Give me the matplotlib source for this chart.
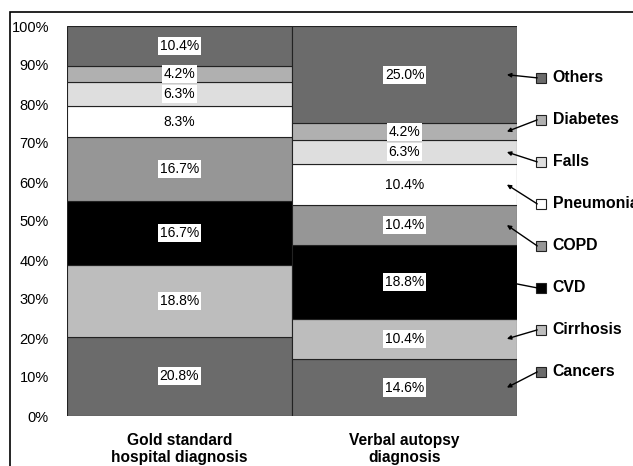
import matplotlib
matplotlib.use('Agg')
import matplotlib.pyplot as plt
import numpy as np
from matplotlib.patches import Rectangle

plt.rcParams['font.family'] = ['Liberation Sans', 'DejaVu Sans']

# categories from bottom to top
causes = ['Cancers', 'Cirrhosis', 'CVD', 'COPD', 'Pneumonia', 'Falls', 'Diabetes', 'Others']
groups = ['Gold standard\nhospital diagnosis', 'Verbal autopsy\ndiagnosis']
gold = [20.8, 18.8, 16.7, 16.7, 8.3, 6.3, 4.2, 10.4]
verbal = [14.6, 10.4, 18.8, 10.4, 10.4, 6.3, 4.2, 25.0]
colors = ['#6b6b6b', '#bdbdbd', '#000000', '#969696', '#ffffff', '#dedede', '#b0b0b0', '#6b6b6b']

fig = plt.figure(figsize=(6.33, 4.66), dpi=100)
ax = fig.add_axes([67/633, 50/466, 450/633, 390/466])

data = [gold, verbal]
for i, vals in enumerate(data):
    vals = np.array(vals)
    pct = vals / vals.sum() * 100   # percent stacked
    bottom = 0
    for j in range(len(causes)):
        ax.bar(i, pct[j], bottom=bottom, width=1.0, color=colors[j],
               edgecolor='#222222', linewidth=0.8)
        ax.text(i, bottom + pct[j] / 2, '%.1f%%' % vals[j], ha='center', va='center',
                fontsize=10, color='black',
                bbox=dict(facecolor='white', edgecolor='none', pad=1.5))
        bottom += pct[j]

# legend with leader arrows into the right bar
vr = np.array(verbal)
vr_pct = vr / vr.sum() * 100
mids = np.cumsum(vr_pct) - vr_pct / 2
leg_y = np.linspace(11.3, 86.7, len(causes))
for j in range(len(causes)):
    ax.annotate('', xy=(1.455, mids[j]), xytext=(1.59, leg_y[j]),
                arrowprops=dict(arrowstyle='-|>', color='black', lw=1,
                                mutation_scale=6, shrinkA=0, shrinkB=0),
                annotation_clip=False)
    ax.plot(1.607, leg_y[j], marker='s', markersize=7, markerfacecolor=colors[j],
            markeredgecolor='#222222', markeredgewidth=0.8, clip_on=False)
    ax.text(1.658, leg_y[j], causes[j], ha='left', va='center', fontsize=11.4,
            fontweight='bold')

ax.set_xlim(-0.5, 1.5)
ax.set_ylim(0, 100)
ax.set_yticks(range(0, 101, 10))
ax.set_yticklabels(['%d%%' % v for v in range(0, 101, 10)], fontsize=10.5)
ax.set_xticks([0, 1])
ax.set_xticklabels(groups, fontsize=11.2, fontweight='bold')
ax.tick_params(length=0, axis='y', pad=13)
ax.tick_params(length=0, axis='x', pad=12)
for s in ax.spines.values():
    s.set_visible(False)

# outer frame (left/top edges visible)
fig.add_artist(Rectangle((10/633, -0.1), 1.2, (466 - 12)/466 + 0.1, fill=False,
                         edgecolor='black', linewidth=1.2, transform=fig.transFigure))

fig.savefig('out.png', dpi=100)
